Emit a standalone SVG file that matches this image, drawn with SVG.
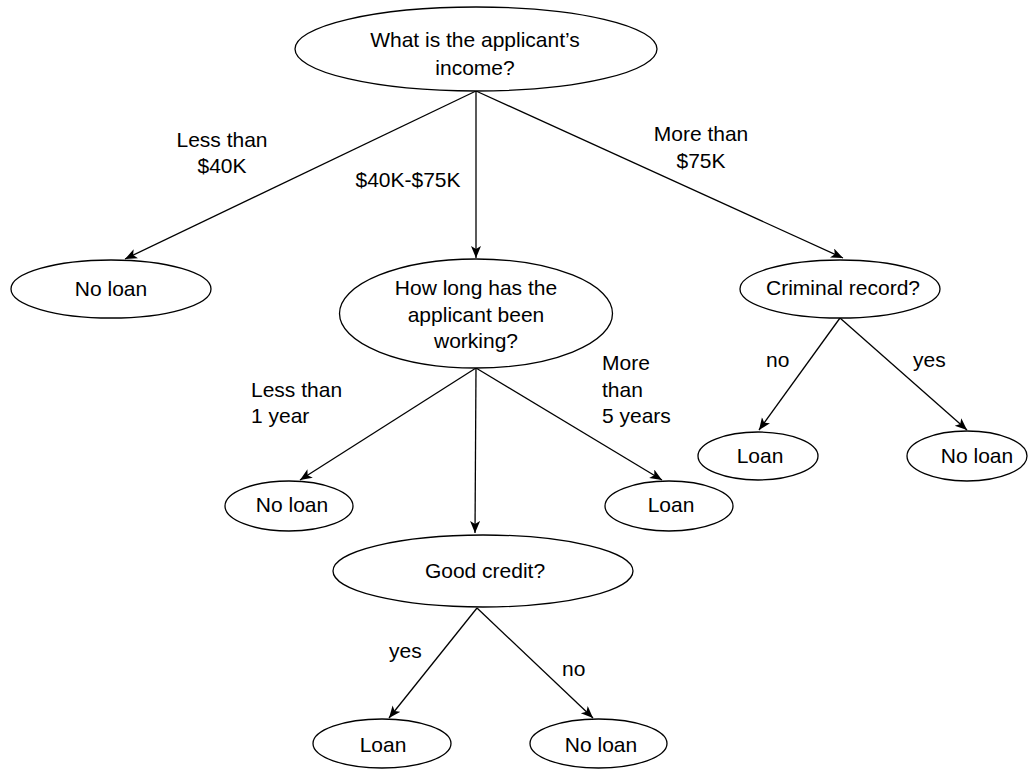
<svg xmlns="http://www.w3.org/2000/svg" width="1028" height="769" viewBox="0 0 1028 769">
<style>
.n{fill:#fff;stroke:#000;stroke-width:1.3}
.t{font-family:"Liberation Sans",Arial,sans-serif;font-size:21px;fill:#000}
.c{text-anchor:middle}
.e{stroke:#000;stroke-width:1.3;fill:none;marker-end:url(#arr)}
</style>
<defs>
<marker id="arr" markerUnits="userSpaceOnUse" markerWidth="14" markerHeight="12" refX="12" refY="5" orient="auto">
<path d="M0,0 L12,5 L0,10 L3,5 Z" fill="#000"/>
</marker>
</defs>
<rect width="1028" height="769" fill="#fff"/>
<g id="connectors">
<line class="e" x1="476" y1="91" x2="125" y2="259"/>
<line class="e" x1="476" y1="91" x2="476" y2="258"/>
<line class="e" x1="476" y1="91" x2="843" y2="258"/>
<line class="e" x1="476" y1="368" x2="300" y2="480"/>
<line class="e" x1="476" y1="368" x2="475" y2="533"/>
<line class="e" x1="476" y1="368" x2="662" y2="480"/>
<line class="e" x1="840" y1="318" x2="759" y2="430"/>
<line class="e" x1="840" y1="318" x2="967" y2="430"/>
<line class="e" x1="477" y1="608" x2="389" y2="718"/>
<line class="e" x1="477" y1="608" x2="593" y2="718"/>
</g>
<g id="labels" class="t">
<text class="c" x="222" y="147">Less than</text>
<text class="c" x="222" y="173">$40K</text>
<text class="c" x="408" y="187">$40K-$75K</text>
<text class="c" x="701" y="141">More than</text>
<text class="c" x="701" y="168">$75K</text>
<text x="251" y="397">Less than</text>
<text x="251" y="423">1 year</text>
<text x="602" y="370">More</text>
<text x="602" y="397">than</text>
<text x="602" y="423">5 years</text>
<text x="766" y="367">no</text>
<text x="913" y="367">yes</text>
<text x="389" y="658">yes</text>
<text x="562" y="676">no</text>
</g>
<g id="income">
<ellipse class="n" cx="476" cy="49" rx="181" ry="42"/>
<text class="t c" x="475" y="47">What is the applicant’s</text>
<text class="t c" x="475" y="75">income?</text>
</g>
<g id="noloan1">
<ellipse class="n" cx="111" cy="289" rx="100" ry="29"/>
<text class="t c" x="111" y="296">No loan</text>
</g>
<g id="working">
<ellipse class="n" cx="476" cy="313.5" rx="136.5" ry="54.5"/>
<text class="t c" x="476" y="295">How long has the</text>
<text class="t c" x="476" y="322">applicant been</text>
<text class="t c" x="476" y="348">working?</text>
</g>
<g id="criminal">
<ellipse class="n" cx="840" cy="289" rx="100" ry="29"/>
<text class="t c" x="843" y="295">Criminal record?</text>
</g>
<g id="noloan2">
<ellipse class="n" cx="289" cy="506" rx="64" ry="25"/>
<text class="t c" x="292" y="512">No loan</text>
</g>
<g id="loan1">
<ellipse class="n" cx="669" cy="506" rx="64" ry="25"/>
<text class="t c" x="671" y="512">Loan</text>
</g>
<g id="credit">
<ellipse class="n" cx="483" cy="571" rx="150" ry="36"/>
<text class="t c" x="485" y="578">Good credit?</text>
</g>
<g id="loan2">
<ellipse class="n" cx="758" cy="456" rx="60" ry="24"/>
<text class="t c" x="760" y="463">Loan</text>
</g>
<g id="noloan3">
<ellipse class="n" cx="967" cy="456" rx="60" ry="25"/>
<text class="t c" x="977" y="463">No loan</text>
</g>
<g id="loan3">
<ellipse class="n" cx="382" cy="743.5" rx="69" ry="24.5"/>
<text class="t c" x="383" y="752">Loan</text>
</g>
<g id="noloan4">
<ellipse class="n" cx="598.5" cy="743.5" rx="68.5" ry="24.5"/>
<text class="t c" x="601" y="752">No loan</text>
</g>
</svg>
